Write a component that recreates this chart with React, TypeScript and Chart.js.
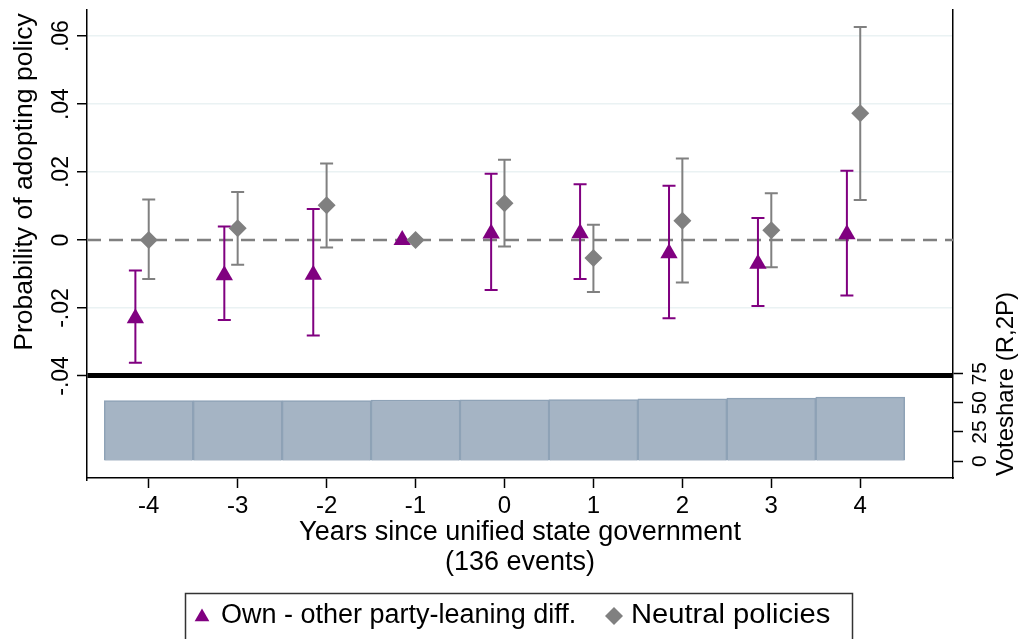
import React, { useEffect, useRef } from 'react';
import { Chart, registerables } from 'chart.js';

Chart.register(...registerables);

// ---------------- data ----------------
const YEARS = [-4, -3, -2, -1, 0, 1, 2, 3, 4];
const X_TICK_LABELS = ['-4', '-3', '-2', '-1', '0', '1', '2', '3', '4'];

const OWN = [-0.0230, -0.0104, -0.0102, 0.0, 0.0019, 0.0020, -0.0039, -0.0070, 0.0017];
const OWN_LO = [-0.0361, -0.0235, -0.0281, null, -0.0147, -0.0115, -0.0230, -0.0194, -0.0163];
const OWN_HI = [-0.0090, 0.0040, 0.0091, null, 0.0195, 0.0164, 0.0160, 0.0065, 0.0204];

const NEU = [0.0000, 0.0035, 0.0102, 0.0, 0.0108, -0.0053, 0.0057, 0.0029, 0.0373];
const NEU_LO = [-0.0115, -0.0073, -0.0022, null, -0.0019, -0.0153, -0.0125, -0.0080, 0.0118];
const NEU_HI = [0.0119, 0.0141, 0.0225, null, 0.0236, 0.0045, 0.0240, 0.0138, 0.0627];

const VOTESHARE = [51.8, 51.9, 52.0, 52.4, 52.6, 52.8, 53.5, 54.0, 54.9];

const Y_TICKS = [-0.04, -0.02, 0, 0.02, 0.04, 0.06];
const Y_TICK_LABELS = ['-.04', '-.02', '0', '.02', '.04', '.06'];
const VS_TICKS = [0, 25, 50, 75];
const VS_TICK_LABELS = ['0', '25', '50', '75'];

const SERIES_NAMES = ['Own - other party-leaning diff.', 'Neutral policies'];
const Y_TITLE = 'Probability of adopting policy';
const Y2_TITLE = 'Voteshare (R,2P)';
const X_TITLE = ['Years since unified state government', '(136 events)'];

// ---------------- style ----------------
const PURPLE = '#800080';
const GRAY = '#808080';
const GRID = '#eaf2f3';
const BAR_FILL = '#a5b4c4';
const BAR_BORDER = '#8ea2b6';
const OWN_OFFSET = -0.15;
const FONT = '"Liberation Sans", Arial, sans-serif';

function drawText(ctx: CanvasRenderingContext2D, text: string, x: number, y: number, size: number, rot = 0, align: CanvasTextAlign = 'center', sx = 1) {
  ctx.save();
  ctx.translate(x, y);
  ctx.rotate(rot);
  ctx.scale(sx, 1);
  ctx.font = `${size}px ${FONT}`;
  ctx.textAlign = align;
  ctx.textBaseline = 'middle';
  ctx.fillStyle = '#000';
  ctx.fillText(text, 0, 0);
  ctx.restore();
}

function triangle(ctx: CanvasRenderingContext2D, x: number, y: number, r: number, color: string) {
  ctx.save();
  ctx.fillStyle = color;
  ctx.beginPath();
  ctx.moveTo(x, y - r);
  ctx.lineTo(x + r * Math.sin(Math.PI * 2 / 3), y - r * Math.cos(Math.PI * 2 / 3));
  ctx.lineTo(x - r * Math.sin(Math.PI * 2 / 3), y - r * Math.cos(Math.PI * 2 / 3));
  ctx.closePath();
  ctx.fill();
  ctx.restore();
}

function diamond(ctx: CanvasRenderingContext2D, x: number, y: number, r: number, color: string) {
  ctx.save();
  ctx.fillStyle = color;
  ctx.beginPath();
  ctx.moveTo(x, y - r);
  ctx.lineTo(x + r, y);
  ctx.lineTo(x, y + r);
  ctx.lineTo(x - r, y);
  ctx.closePath();
  ctx.fill();
  ctx.restore();
}

const overlay = {
  id: 'overlay',
  beforeDatasetsDraw(chart: any) {
    const { ctx, chartArea, scales } = chart;
    const xs = scales.x;
    const ys = scales.y;
    // dashed zero line
    const y0 = ys.getPixelForValue(0);
    ctx.save();
    ctx.strokeStyle = GRAY;
    ctx.lineWidth = 2.5;
    ctx.setLineDash([14, 8]);
    ctx.beginPath();
    ctx.moveTo(chartArea.left, y0);
    ctx.lineTo(chartArea.right, y0);
    ctx.stroke();
    ctx.restore();
    // error bars
    const drawErr = (lo: (number | null)[], hi: (number | null)[], off: number, color: string) => {
      ctx.save();
      ctx.strokeStyle = color;
      ctx.lineWidth = 2;
      YEARS.forEach((yr, i) => {
        const l = lo[i];
        const h = hi[i];
        if (l === null || h === null) return;
        const px = xs.getPixelForValue(yr + off);
        const pl = ys.getPixelForValue(l);
        const ph = ys.getPixelForValue(h);
        ctx.beginPath();
        ctx.moveTo(px, pl);
        ctx.lineTo(px, ph);
        ctx.moveTo(px - 6.5, pl);
        ctx.lineTo(px + 6.5, pl);
        ctx.moveTo(px - 6.5, ph);
        ctx.lineTo(px + 6.5, ph);
        ctx.stroke();
      });
      ctx.restore();
    };
    drawErr(OWN_LO, OWN_HI, OWN_OFFSET, PURPLE);
    drawErr(NEU_LO, NEU_HI, 0, GRAY);
  },
  afterDraw(chart: any) {
    const { ctx, chartArea, scales } = chart;
    const ys = scales.y;
    const y2 = scales.y2;
    // left tick labels (rotated)
    Y_TICKS.forEach((v, i) => {
      drawText(ctx, Y_TICK_LABELS[i], 62, ys.getPixelForValue(v), 23, -Math.PI / 2);
    });
    // right tick labels (rotated)
    VS_TICKS.forEach((v, i) => {
      drawText(ctx, VS_TICK_LABELS[i], 980, y2.getPixelForValue(v), 21, -Math.PI / 2);
    });
    // axis titles
    drawText(ctx, Y_TITLE, 25, 182, 26.5, -Math.PI / 2);
    drawText(ctx, Y2_TITLE, 1006, 384, 24, -Math.PI / 2);
    const cx = (chartArea.left + chartArea.right) / 2;
    drawText(ctx, X_TITLE[0], cx, 533, 27);
    drawText(ctx, X_TITLE[1], cx, 563, 27);
    // legend box
    ctx.save();
    ctx.strokeStyle = '#333';
    ctx.lineWidth = 1.5;
    ctx.strokeRect(185.5, 593.5, 667, 60);
    ctx.restore();
    triangle(ctx, 202, 617, 8.5, PURPLE);
    drawText(ctx, SERIES_NAMES[0], 221, 616, 27, 0, 'left');
    diamond(ctx, 614, 616, 9, GRAY);
    drawText(ctx, SERIES_NAMES[1], 631, 616, 27, 0, 'left', 1.08);
  },
};

export default function App() {
  const ref = useRef<HTMLCanvasElement>(null);
  useEffect(() => {
    if (!ref.current) return;
    const chart = new Chart(ref.current, {
      type: 'bar',
      data: {
        datasets: [
          {
            type: 'scatter',
            label: SERIES_NAMES[1],
            data: YEARS.map((x, i) => ({ x, y: NEU[i] })),
            xAxisID: 'x',
            yAxisID: 'y',
            pointStyle: 'rectRot',
            pointRadius: 9,
            backgroundColor: GRAY,
            borderWidth: 0,
            order: 1,
          } as any,
          {
            type: 'scatter',
            label: SERIES_NAMES[0],
            data: YEARS.map((x, i) => ({ x: x + OWN_OFFSET, y: OWN[i] })),
            xAxisID: 'x',
            yAxisID: 'y',
            pointStyle: 'triangle',
            pointRadius: 10,
            backgroundColor: PURPLE,
            borderWidth: 0,
            order: 2,
          } as any,
          {
            type: 'bar',
            label: 'Voteshare',
            data: YEARS.map((x, i) => ({ x, y: VOTESHARE[i] })),
            xAxisID: 'x',
            yAxisID: 'y2',
            backgroundColor: BAR_FILL,
            borderColor: BAR_BORDER,
            borderWidth: 1.5,
            barPercentage: 1,
            categoryPercentage: 1,
            order: 3,
          } as any,
        ],
      },
      options: {
        animation: false,
        responsive: false,
        devicePixelRatio: 1,
        layout: { padding: { top: 7, left: 0, right: 0, bottom: 0 } },
        plugins: { legend: { display: false }, tooltip: { enabled: false }, title: { display: false } },
        font: { family: FONT },
        scales: {
          x: {
            type: 'linear',
            position: 'bottom',
            offset: false,
            min: -4.694,
            max: 5.043,
            afterBuildTicks: (s: any) => { s.ticks = YEARS.map((v) => ({ value: v })); },
            afterFit: (s: any) => { s.height = 161; },
            ticks: {
              autoSkip: false,
              maxRotation: 0,
              minRotation: 0,
              padding: 4,
              color: '#000',
              font: { family: FONT, size: 24 },
              callback: (v: any) => {
                const i = YEARS.indexOf(Number(v));
                return i >= 0 ? X_TICK_LABELS[i] : '';
              },
            },
            grid: { offset: false, drawOnChartArea: false, drawTicks: true, tickLength: 10, tickColor: '#000', tickWidth: 1.5 },
            border: { display: true, color: '#000', width: 1.5 },
          },
          y: {
            type: 'linear',
            position: 'left',
            min: -0.07003,
            max: 0.06769,
            afterBuildTicks: (s: any) => { s.ticks = Y_TICKS.map((v) => ({ value: v })); },
            afterFit: (s: any) => { s.width = 87; },
            ticks: { display: false },
            grid: {
              drawOnChartArea: true,
              drawTicks: true,
              tickLength: 10,
              tickColor: '#000',
              tickWidth: 1.5,
              color: (c: any) => {
                const v = c.tick ? c.tick.value : null;
                if (v === -0.04) return '#000';
                if (v === 0) return 'rgba(0,0,0,0)';
                return GRID;
              },
              lineWidth: (c: any) => (c.tick && c.tick.value === -0.04 ? 5 : 1.5),
            },
            border: { display: true, color: '#000', width: 1.5 },
          },
          y2: {
            type: 'linear',
            position: 'right',
            min: -14.5,
            max: 386.9,
            afterBuildTicks: (s: any) => { s.ticks = VS_TICKS.map((v) => ({ value: v })); },
            afterFit: (s: any) => { s.width = 68; },
            ticks: { display: false },
            grid: { drawOnChartArea: false, drawTicks: true, tickLength: 10, tickColor: '#000', tickWidth: 1.5 },
            border: { display: true, color: '#000', width: 1.5 },
          },
        },
      } as any,
      plugins: [overlay],
    });
    return () => chart.destroy();
  }, []);
  return (
    <div style={{ position: 'absolute', left: 0, top: 0, width: 1021, height: 639, background: '#fff' }}>
      <canvas ref={ref} width={1021} height={639} style={{ display: 'block' }} />
    </div>
  );
}
